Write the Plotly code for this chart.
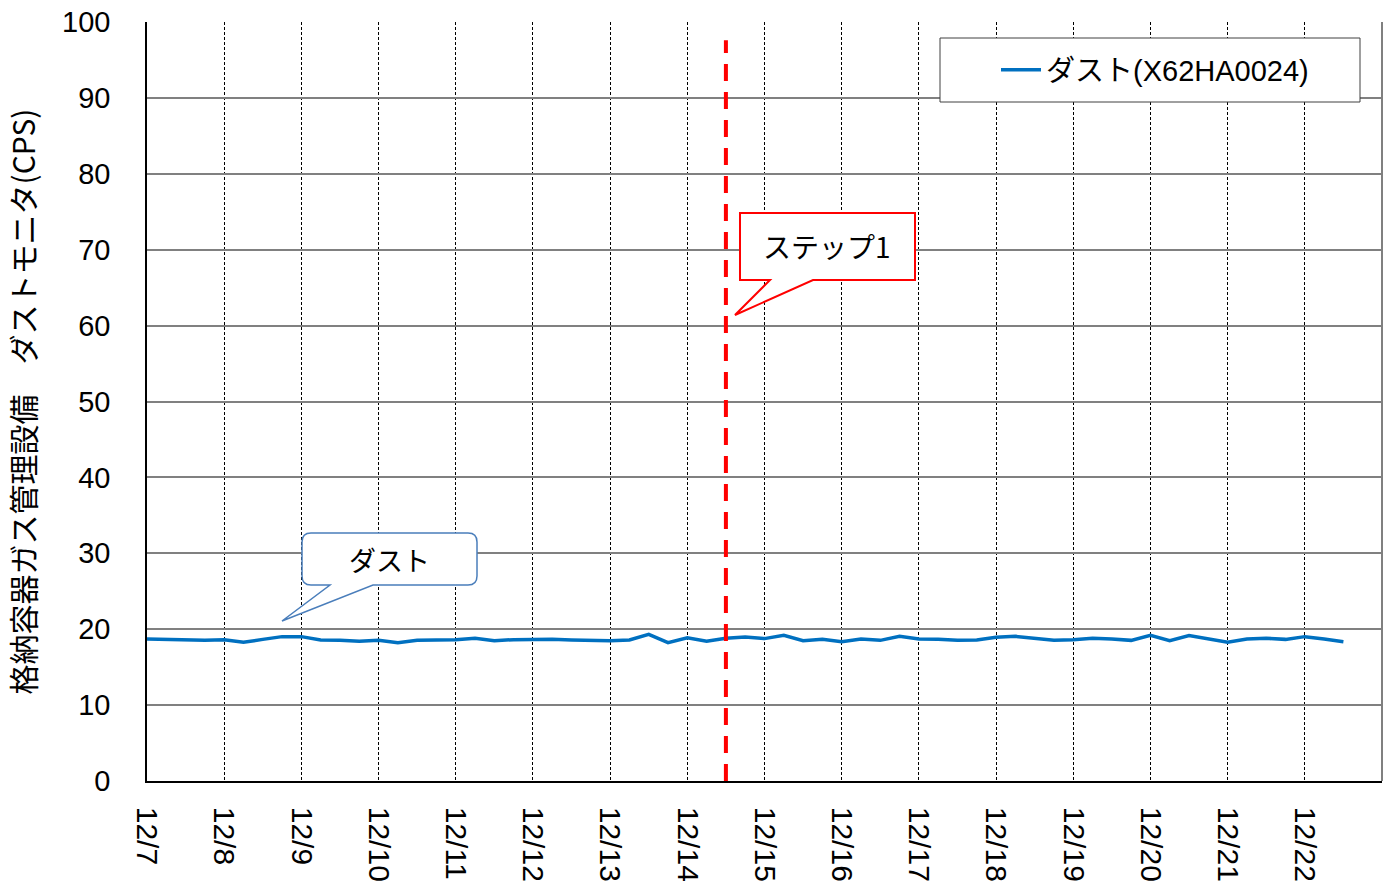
import pandas as pd
import plotly.graph_objects as go

# Dust monitor readings, one every 6 hours from 12/7 00:00
start = "2021-12-07 00:00"
dust_cps = [
    18.71, 18.62, 18.53, 18.53, 18.62, 18.27, 18.66, 19.02,
    19.02, 18.58, 18.53, 18.40, 18.53, 18.23, 18.53, 18.58,
    18.60, 18.80, 18.49, 18.62, 18.66, 18.66, 18.58, 18.49,
    18.49, 18.58, 19.31, 18.23, 18.88, 18.40, 18.80, 18.97,
    18.76, 19.19, 18.49, 18.66, 18.36, 18.71, 18.53, 19.06,
    18.71, 18.66, 18.53, 18.58, 18.93, 19.06, 18.75, 18.53,
    18.62, 18.80, 18.71, 18.53, 19.19, 18.49, 19.15, 18.71,
    18.27, 18.71, 18.80, 18.66, 19.02, 18.71, 18.36,
]
times = pd.date_range(start, periods=len(dust_cps), freq="6h")

x_range = ["2021-12-07", "2021-12-23"]
tick_dates = pd.date_range(x_range[0], x_range[1], freq="D")
tick_labels = [f"{d.month}/{d.day}" for d in tick_dates]
y_ticks = list(range(0, 101, 10))

step1_time = "2021-12-14 12:00"
step1_top = 97.6

series_name = "ダスト(X62HA0024)"
y_title = "格納容器ガス管理設備\u3000ダストモニタ(CPS)"

FONT = "Liberation Sans, Arial, Noto Sans CJK JP"
CJK = "Noto Sans CJK JP, Liberation Sans"

# plot-area geometry in pixels (used to place callouts in paper units)
W, H = 1397, 883
ML, MR, MT, MB = 147, 15, 22, 102
PW, PH = W - ML - MR, H - MT - MB


def px(xp):
    return (xp - ML) / PW


def py(yp):
    return (H - MB - yp) / PH


def path(points):
    return "M " + " L ".join(f"{px(a):.5f},{py(b):.5f}" for a, b in points) + " Z"


def rounded_callout(x0, y0, x1, y1, r, tail):
    b1, b2, tip = tail
    segs = [
        f"M {px(x0 + r):.5f},{py(y0):.5f}",
        f"L {px(x1 - r):.5f},{py(y0):.5f}",
        f"Q {px(x1):.5f},{py(y0):.5f} {px(x1):.5f},{py(y0 + r):.5f}",
        f"L {px(x1):.5f},{py(y1 - r):.5f}",
        f"Q {px(x1):.5f},{py(y1):.5f} {px(x1 - r):.5f},{py(y1):.5f}",
        f"L {px(b2):.5f},{py(y1):.5f}",
        f"L {px(tip[0]):.5f},{py(tip[1]):.5f}",
        f"L {px(b1):.5f},{py(y1):.5f}",
        f"L {px(x0 + r):.5f},{py(y1):.5f}",
        f"Q {px(x0):.5f},{py(y1):.5f} {px(x0):.5f},{py(y1 - r):.5f}",
        f"L {px(x0):.5f},{py(y0 + r):.5f}",
        f"Q {px(x0):.5f},{py(y0):.5f} {px(x0 + r):.5f},{py(y0):.5f}",
        "Z",
    ]
    return " ".join(segs)


fig = go.Figure()
fig.add_trace(go.Scatter(
    x=times, y=dust_cps, mode="lines", name=series_name,
    line=dict(color="#0070C0", width=3.5),
))

shapes = [
    # step 1 marker
    dict(type="line", xref="x", yref="y", x0=step1_time, x1=step1_time,
         y0=0, y1=step1_top, line=dict(color="#FF0000", width=4, dash="17px,11px"),
         layer="above"),
    # right frame edge
    dict(type="line", xref="paper", yref="paper", x0=1, x1=1, y0=0, y1=1,
         line=dict(color="#808080", width=2), layer="above"),
    # legend frame
    dict(type="rect", xref="paper", yref="paper",
         x0=px(940), x1=px(1360), y0=py(102), y1=py(38),
         fillcolor="white", line=dict(color="#404040", width=1), layer="above"),
    # "ステップ1" callout
    dict(type="path", xref="paper", yref="paper",
         path=path([(740, 213), (915, 213), (915, 280), (813, 280),
                    (735, 315), (770, 280), (740, 280)]),
         fillcolor="white", line=dict(color="#FF0000", width=2), layer="above"),
    # "ダスト" callout
    dict(type="path", xref="paper", yref="paper",
         path=rounded_callout(302, 533, 477, 585, 9, (330, 373, (282, 621))),
         fillcolor="white", line=dict(color="#4A7EBB", width=1.5), layer="above"),
]

annotations = [
    dict(xref="paper", yref="paper", x=px(827), y=py(246), text="ステップ1",
         xanchor="center", yanchor="middle",
         showarrow=False, font=dict(family=CJK, size=28, color="black")),
    dict(xref="paper", yref="paper", x=px(389), y=py(559), text="ダスト",
         xanchor="center", yanchor="middle",
         showarrow=False, font=dict(family=CJK, size=27, color="black")),
]

fig.update_layout(
    width=W, height=H,
    margin=dict(l=ML, r=MR, t=MT, b=MB, autoexpand=False),
    paper_bgcolor="white", plot_bgcolor="white",
    font=dict(family=FONT, size=29, color="black"),
    shapes=shapes, annotations=annotations,
    showlegend=True,
    legend=dict(x=px(1155), y=py(70), xanchor="center", yanchor="middle",
                bgcolor="rgba(0,0,0,0)", borderwidth=0,
                font=dict(family=FONT, size=29, color="black"),
                itemwidth=40),
)

fig.update_xaxes(
    type="date", range=x_range, automargin=False,
    tickmode="array", tickvals=tick_dates, ticktext=tick_labels,
    tickangle=90, tickfont=dict(family=FONT, size=30),
    ticklabelstandoff=18,
    showgrid=True, gridcolor="black", gridwidth=1, griddash="3px,2px",
    showline=True, linecolor="black", linewidth=1.5,
    ticks="", zeroline=False,
)
fig.update_yaxes(
    range=[0, 100], tickmode="array", tickvals=y_ticks, automargin=False,
    tickfont=dict(family=FONT, size=29),
    ticklabelstandoff=29,
    showgrid=True, gridcolor="#808080", gridwidth=1.5,
    showline=True, linecolor="black", linewidth=1.5,
    ticks="", zeroline=False,
    title=dict(text=y_title, font=dict(family=CJK, size=30), standoff=22),
)

fig.write_html("out.html")
